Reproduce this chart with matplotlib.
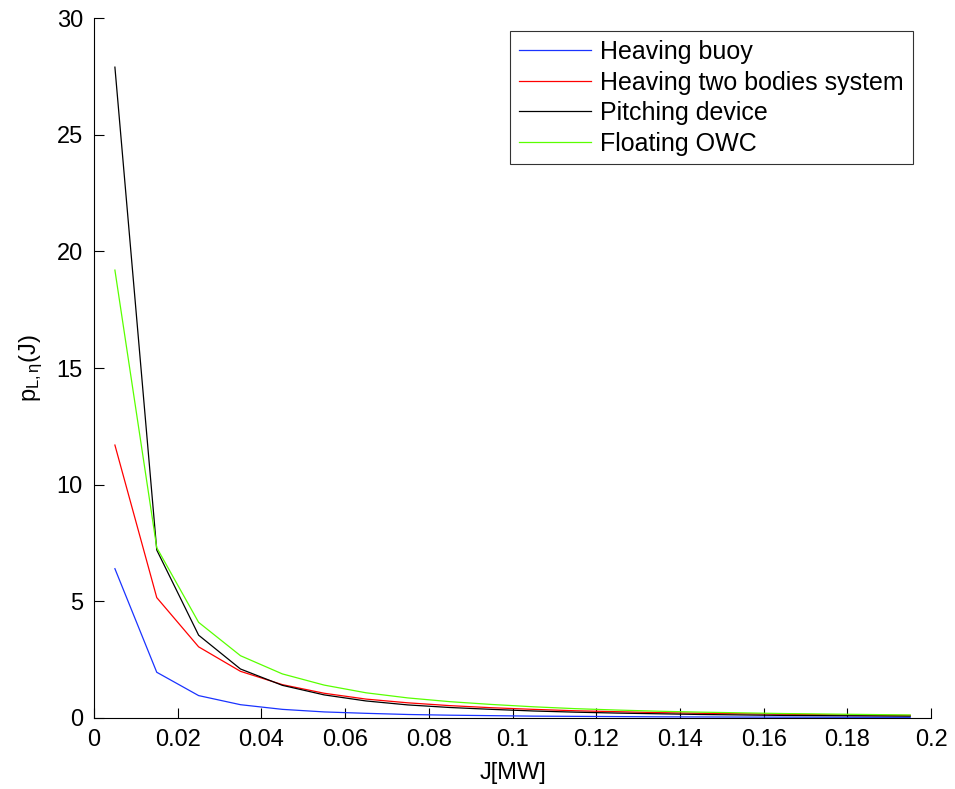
import numpy as np
import matplotlib
matplotlib.use('Agg')
import matplotlib.pyplot as plt

plt.rcParams['font.family'] = ['Liberation Sans', 'DejaVu Sans']
plt.rcParams['mathtext.fontset'] = 'custom'
plt.rcParams['mathtext.rm'] = 'Liberation Sans'
plt.rcParams['mathtext.it'] = 'Liberation Sans'

# wave power classes J [MW]
J = [0.005, 0.015, 0.025, 0.035, 0.045, 0.055, 0.065, 0.075, 0.085, 0.095,
     0.105, 0.115, 0.125, 0.135, 0.145, 0.155, 0.165, 0.175, 0.185, 0.195]

heaving_buoy = [6.4, 1.96, 0.96, 0.57, 0.37, 0.26, 0.2, 0.15, 0.12, 0.1,
                0.08, 0.07, 0.06, 0.05, 0.045, 0.04, 0.036, 0.033, 0.03, 0.028]
two_bodies = [11.7, 5.16, 3.05, 2.0, 1.43, 1.06, 0.81, 0.65, 0.53, 0.44,
              0.37, 0.31, 0.27, 0.23, 0.2, 0.18, 0.16, 0.14, 0.12, 0.11]
pitching = [27.9, 7.2, 3.55, 2.1, 1.4, 0.99, 0.73, 0.56, 0.45, 0.37,
            0.3, 0.25, 0.21, 0.18, 0.15, 0.13, 0.11, 0.1, 0.09, 0.08]
floating_owc = [19.2, 7.3, 4.1, 2.67, 1.89, 1.41, 1.08, 0.86, 0.7, 0.58,
                0.48, 0.4, 0.34, 0.29, 0.25, 0.22, 0.19, 0.17, 0.15, 0.13]

fig = plt.figure(figsize=(9.55, 7.89), dpi=100)
ax = fig.add_axes([0.0984, 0.09, 0.8766, 0.887])

lw = 0.9
ax.plot(J, heaving_buoy, color=(0.1, 0.2, 1), lw=lw, label='Heaving buoy')
ax.plot(J, two_bodies, color=(1, 0, 0), lw=lw, label='Heaving two bodies system')
ax.plot(J, pitching, color='black', lw=lw, label='Pitching device')
ax.plot(J, floating_owc, color=(0.35, 1, 0), lw=lw, label='Floating OWC')

ax.set_xlim(0, 0.2)
ax.set_ylim(0, 30)
ax.set_xticks(np.arange(0, 0.201, 0.02))
ax.set_xticklabels(['0', '0.02', '0.04', '0.06', '0.08', '0.1', '0.12',
                    '0.14', '0.16', '0.18', '0.2'])
ax.set_yticks(range(0, 31, 5))

ax.spines['top'].set_visible(False)
ax.spines['right'].set_visible(False)
ax.tick_params(direction='in', length=7, width=0.8, labelsize=17, pad=8)

ax.set_xlabel('J[MW]', fontsize=17, labelpad=8)
ax.set_ylabel(r'p$_{\mathrm{L,\eta}}$(J)', fontsize=17, labelpad=8)

leg = ax.legend(loc='upper right', bbox_to_anchor=(0.978, 0.981),
                fontsize=18, frameon=True, fancybox=False, edgecolor='black',
                handlelength=2.9, handletextpad=0.36, labelspacing=0.26,
                borderpad=0.35, borderaxespad=0)
leg.get_frame().set_linewidth(0.8)

fig.savefig('out.png', dpi=100)
